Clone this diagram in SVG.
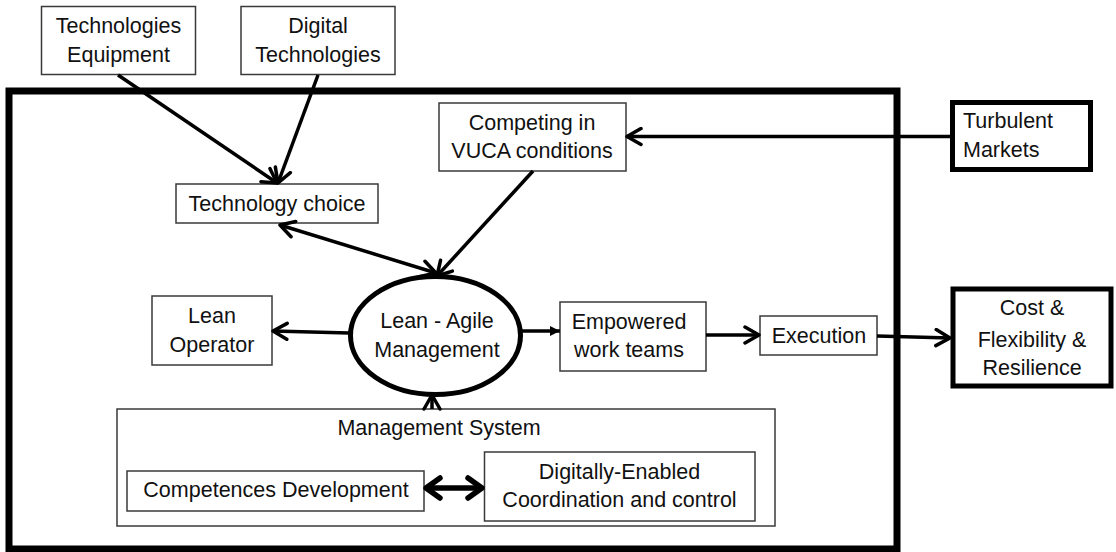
<svg xmlns="http://www.w3.org/2000/svg" width="1116" height="552" viewBox="0 0 1116 552">
<defs>
<style>
.box{fill:#fff;stroke:#3a3a3a;stroke-width:1.5}
.thick{fill:#fff;stroke:#000;stroke-width:5}
.t{font-family:"Liberation Sans",Arial,sans-serif;font-size:21.5px;fill:#111;text-anchor:middle}
.tl{text-anchor:start}
.c{stroke:#000;stroke-width:3.5;fill:none}
</style>
<marker id="open" viewBox="0 0 18 20" refX="16" refY="10" markerWidth="18" markerHeight="20" markerUnits="userSpaceOnUse" orient="auto-start-reverse">
<path d="M2,2 L16,10 L2,18" fill="none" stroke="#000" stroke-width="3.5" stroke-linejoin="round" stroke-linecap="round"/>
</marker>
<marker id="big" viewBox="0 0 20 26" refX="17" refY="13" markerWidth="20" markerHeight="26" markerUnits="userSpaceOnUse" orient="auto-start-reverse">
<path d="M3,3 L17,13 L3,23" fill="none" stroke="#000" stroke-width="5.5" stroke-linejoin="round" stroke-linecap="round"/>
</marker>
<marker id="small" viewBox="0 0 10 10" refX="10" refY="5" markerWidth="10" markerHeight="10" markerUnits="userSpaceOnUse" orient="auto">
<path d="M0,0 L10,5 L0,10 Z" fill="#000"/>
</marker>
</defs>
<rect width="1116" height="552" fill="#fff"/>

<g id="frame"><rect x="9" y="91" width="888" height="458" fill="none" stroke="#000" stroke-width="7"/></g>

<g id="management-system"><rect class="box" x="117" y="409" width="658" height="117"/>
<text class="t" x="439" y="435">Management System</text></g>

<g id="tech-equipment"><rect class="box" x="41.5" y="6.5" width="154" height="68"/>
<text class="t" x="118.5" y="33">Technologies</text><text class="t" x="118.5" y="61.5">Equipment</text></g>

<g id="digital-tech"><rect class="box" x="241" y="6.5" width="154" height="68"/>
<text class="t" x="318" y="33">Digital</text><text class="t" x="318" y="61.5">Technologies</text></g>

<g id="tech-choice"><rect class="box" x="176" y="184" width="202" height="39"/>
<text class="t" x="277" y="211">Technology choice</text></g>

<g id="competing"><rect class="box" x="439" y="103" width="187" height="68"/>
<text class="t" x="532" y="130">Competing in</text><text class="t" x="532" y="158">VUCA conditions</text></g>

<g id="turbulent"><rect class="thick" x="952.5" y="102.5" width="138" height="67"/>
<text class="t tl" x="963" y="128">Turbulent</text><text class="t tl" x="963" y="157">Markets</text></g>

<g id="lean-operator"><rect class="box" x="152" y="296" width="120" height="69"/>
<text class="t" x="212" y="323">Lean</text><text class="t" x="212" y="351.5">Operator</text></g>

<g id="lean-agile"><ellipse cx="435.5" cy="335.5" rx="85" ry="59" fill="#fff" stroke="#000" stroke-width="5"/>
<text class="t" x="437" y="328">Lean - Agile</text><text class="t" x="437" y="356.5">Management</text></g>

<g id="empowered"><rect class="box" x="560" y="302" width="146" height="69"/>
<text class="t" x="629" y="329">Empowered</text><text class="t" x="629" y="357">work teams</text></g>

<g id="execution"><rect class="box" x="760" y="316" width="117" height="39"/>
<text class="t" x="819" y="342.5">Execution</text></g>

<g id="cost"><rect class="thick" x="953" y="289" width="158" height="97"/>
<text class="t" x="1032" y="315">Cost &amp;</text><text class="t" x="1032" y="346.5">Flexibility &amp;</text><text class="t" x="1032" y="375">Resilience</text></g>

<g id="competences"><rect class="box" x="127" y="471" width="297" height="40"/>
<text class="t" x="276" y="497">Competences Development</text></g>

<g id="digitally"><rect class="box" x="484.5" y="452" width="270.5" height="69"/>
<text class="t" x="619.5" y="478.5">Digitally-Enabled</text><text class="t" x="619.5" y="507">Coordination and control</text></g>

<g id="connectors">
<line class="c" x1="118" y1="75" x2="277" y2="183" marker-end="url(#open)"/>
<line class="c" x1="318" y1="75" x2="278" y2="183" marker-end="url(#open)"/>
<line class="c" x1="280" y1="225" x2="436" y2="273" marker-start="url(#open)" marker-end="url(#open)"/>
<line class="c" x1="950" y1="136.5" x2="627" y2="136.5" marker-end="url(#open)"/>
<line class="c" x1="533" y1="171" x2="437" y2="276" marker-end="url(#open)"/>
<line class="c" x1="349" y1="333" x2="273" y2="331" marker-end="url(#open)"/>
<line class="c" x1="522" y1="331" x2="560" y2="331" marker-end="url(#small)"/>
<line class="c" x1="432" y1="409" x2="432" y2="395" marker-end="url(#open)"/>
<line class="c" x1="706" y1="335" x2="759" y2="335" marker-end="url(#open)"/>
<line class="c" x1="877" y1="336" x2="950" y2="338" marker-end="url(#open)"/>
<line x1="426" y1="488" x2="482" y2="488" stroke="#000" stroke-width="5.5" marker-start="url(#big)" marker-end="url(#big)"/>
</g>
</svg>
